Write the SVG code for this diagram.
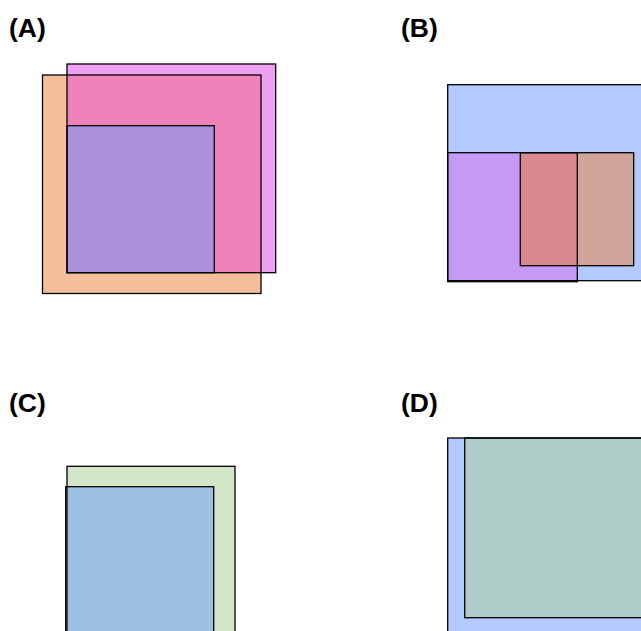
<svg xmlns="http://www.w3.org/2000/svg" width="641" height="631" viewBox="0 0 641 631">
<style>
.lbl{font-family:"Liberation Sans",Arial,sans-serif;font-weight:bold;font-size:26.5px;fill:#000}
.ol{fill:none;stroke:#000;stroke-width:1.3}
</style>
<rect width="641" height="631" fill="#fff"/>
<g id="panelA">
<text class="lbl" x="9" y="37">(A)</text>
<rect x="42.5" y="75" width="218.5" height="218.5" fill="#F5BE9A"/>
<rect x="67" y="64" width="208.7" height="208.7" fill="#F0A0F0"/>
<rect x="67" y="75" width="194" height="197.7" fill="#EF82B8"/>
<rect x="67" y="125.7" width="147.3" height="147" fill="#AA8FDB"/>
<rect class="ol" x="42.5" y="75" width="218.5" height="218.5"/>
<rect class="ol" x="67" y="64" width="208.7" height="208.7"/>
<rect class="ol" x="67" y="125.7" width="147.3" height="147"/>
</g>
<g id="panelB">
<text class="lbl" x="401" y="37">(B)</text>
<rect x="447.7" y="84.7" width="200" height="196" fill="#B2CAFF"/>
<rect x="447.7" y="152.7" width="129.6" height="129" fill="#C59AF5"/>
<rect x="520.3" y="152.7" width="113.4" height="113" fill="#D0A498"/>
<rect x="520.3" y="152.7" width="57" height="113" fill="#D98A90"/>
<rect class="ol" x="447.7" y="84.7" width="200" height="196"/>
<rect class="ol" x="447.7" y="152.7" width="129.6" height="129"/>
<rect class="ol" x="520.3" y="152.7" width="113.4" height="113"/>
</g>
<g id="panelC">
<text class="lbl" x="9" y="412">(C)</text>
<rect x="67" y="466.3" width="168" height="180" fill="#D4E6C8"/>
<rect x="65.7" y="486.7" width="148" height="160" fill="#9DC1E3"/>
<rect class="ol" x="67" y="466.3" width="168" height="180"/>
<rect class="ol" x="65.7" y="486.7" width="148" height="160"/>
</g>
<g id="panelD">
<text class="lbl" x="401" y="412">(D)</text>
<rect x="447.7" y="438" width="200" height="200" fill="#B2CAFF"/>
<rect x="464.7" y="438" width="190" height="179.7" fill="#AFCDC8"/>
<rect class="ol" x="447.7" y="438" width="200" height="200"/>
<rect class="ol" x="464.7" y="438" width="190" height="179.7"/>
</g>
</svg>
